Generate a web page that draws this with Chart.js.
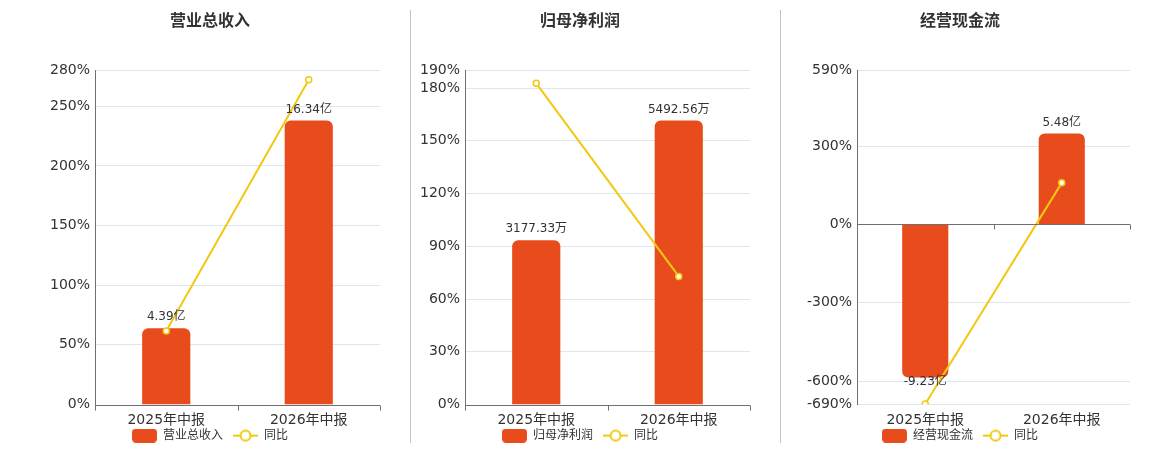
<!DOCTYPE html>
<html>
<head>
<meta charset="utf-8">
<script src="https://cdn.jsdelivr.net/npm/chart.js@4.4.1/dist/chart.umd.min.js"></script>
<style>
  body { margin: 0; width: 1160px; height: 450px; position: relative; background: #fff; overflow: hidden; }
  .box { position: absolute; top: 0; height: 450px; }
  .sep { position: absolute; top: 10px; height: 433px; width: 1px; background: #c4c4c4; }
</style>
</head>
<body>
<div class="sep" style="left:410px"></div>
<div class="sep" style="left:780px"></div>
<div class="box" style="left:40px;width:350px"><canvas id="c1"></canvas></div>
<div class="box" style="left:410px;width:350px"><canvas id="c2"></canvas></div>
<div class="box" style="left:790px;width:350px"><canvas id="c3"></canvas></div>
<script>
// data
const categories = ['2025年中报', '2026年中报'];

const revenue = [4.39, 16.34];          // 亿
const revenueYoy = [61.7, 272.21];      // %
const profit = [3177.33, 5492.56];      // 万
const profitYoy = [182.7, 72.87];
const cashflow = [-9.23, 5.48];         // 亿
const cashflowYoy = [-688, 159.4];

const revenueTicks = [0, 50, 100, 150, 200, 250, 280];
const profitTicks = [0, 30, 60, 90, 120, 150, 180, 190];
const cashflowTicks = [-690, -600, -300, 0, 300, 590];

const RED = '#e84c1c';
const YELLOW = '#f2c811';
const AXIS = '#6e7079';
const GRID = '#e0e6f1';

Chart.defaults.font.family = "'DejaVu Sans', 'Noto Sans CJK SC', sans-serif";
Chart.defaults.color = '#333';

// legend swatches
function barSwatch() {
  const c = document.createElement('canvas');
  c.width = 25; c.height = 14;
  const g = c.getContext('2d');
  g.fillStyle = RED;
  g.beginPath(); g.roundRect(0, 0, 25, 14, 4); g.fill();
  return c;
}
function lineSwatch() {
  const c = document.createElement('canvas');
  c.width = 25; c.height = 14;
  const g = c.getContext('2d');
  g.strokeStyle = YELLOW; g.lineWidth = 2;
  g.beginPath(); g.moveTo(0, 7); g.lineTo(25, 7); g.stroke();
  g.fillStyle = '#fff';
  g.beginPath(); g.arc(12.5, 7, 5, 0, Math.PI * 2); g.fill(); g.stroke();
  return c;
}
const swatches = [barSwatch(), lineSwatch()];

// zero axis with small ticks, plus value labels on the bars
const barDecor = {
  id: 'barDecor',
  afterDatasetsDraw(chart, args, opts) {
    const { ctx, chartArea: a, scales } = chart;
    const y0 = Math.round(scales.y.getPixelForValue(0)) + 0.5;
    ctx.save();
    ctx.strokeStyle = AXIS;
    ctx.lineWidth = 1;
    ctx.beginPath();
    ctx.moveTo(a.left, y0); ctx.lineTo(a.right, y0);
    [a.left, (a.left + a.right) / 2, a.right].forEach(x => {
      x = Math.round(x) + 0.5;
      ctx.moveTo(x, y0); ctx.lineTo(x, y0 + 5);
    });
    ctx.stroke();

    ctx.font = "12px 'DejaVu Sans', 'Noto Sans CJK SC', sans-serif";
    ctx.fillStyle = '#333';
    ctx.textAlign = 'center';
    const values = chart.data.datasets[0].data;
    chart.getDatasetMeta(0).data.forEach((bar, i) => {
      const text = values[i].toFixed(2) + opts.unit;
      if (values[i] >= 0) {
        ctx.textBaseline = 'bottom';
        ctx.fillText(text, bar.x, bar.y - 5);
      } else {
        ctx.textBaseline = 'top';
        ctx.fillText(text, bar.x, bar.y - 2);
      }
    });
    ctx.restore();
  }
};

function makeChart(id, title, barName, bars, unit, yoy, ticks, yWidth, barMin, barMax) {
  new Chart(document.getElementById(id), {
    data: {
      labels: categories,
      datasets: [
        {
          type: 'bar', label: barName, data: bars, yAxisID: 'yb', order: 2,
          backgroundColor: RED, borderRadius: 6, borderSkipped: 'start',
          categoryPercentage: 1, barPercentage: 0.338
        },
        {
          type: 'line', label: '同比', data: yoy, yAxisID: 'y', order: 1,
          borderColor: YELLOW, borderWidth: 2, tension: 0,
          pointRadius: 3, pointBackgroundColor: '#fff', pointBorderColor: YELLOW, pointBorderWidth: 1.5
        }
      ]
    },
    options: {
      responsive: true,
      maintainAspectRatio: false,
      animation: false,
      layout: { padding: { left: 0, right: 10, top: 0, bottom: -1.6 } },
      plugins: {
        title: {
          display: true, text: title, color: '#333',
          font: { size: 16, weight: 'bold' },
          padding: { top: 12.6, bottom: 38.7 }
        },
        legend: {
          position: 'bottom',
          labels: {
            usePointStyle: true, pointStyleWidth: 25, boxHeight: 12, padding: 10,
            font: { size: 12 }, color: '#333',
            generateLabels: c => c.data.datasets.map((ds, i) => ({
              text: ds.label, pointStyle: swatches[i], datasetIndex: i,
              fillStyle: 'transparent', strokeStyle: 'transparent', lineWidth: 0, hidden: false, fontColor: '#333'
            }))
          }
        },
        tooltip: { enabled: false },
        barDecor: { unit: unit }
      },
      scales: {
        x: {
          grid: { display: false, drawTicks: false },
          border: { display: false },
          ticks: { font: { size: 14 }, color: '#333', padding: 7 },
          afterFit: s => {
            s.height = 15.1;
            s._computeLabelArea = () => undefined;   // let the labels spill into the legend band
          }
        },
        y: {
          position: 'left',
          min: ticks[0], max: ticks[ticks.length - 1],
          afterBuildTicks: s => { s.ticks = ticks.map(v => ({ value: v })); },
          grid: { color: c => (c.tick && c.tick.value === 0) ? 'rgba(0,0,0,0)' : GRID, drawTicks: false },
          border: { display: true, color: AXIS },
          ticks: { font: { size: 14 }, color: '#333', padding: 5, callback: v => v + '%' },
          afterFit: s => { s.width = yWidth; }
        },
        yb: {
          display: false,
          min: barMin, max: barMax
        }
      }
    },
    plugins: [barDecor]
  });
}

makeChart('c1', '营业总收入', '营业总收入', revenue, '亿', revenueYoy, revenueTicks, 55,
  0, Math.max(...revenue) / 0.85);
makeChart('c2', '归母净利润', '归母净利润', profit, '万', profitYoy, profitTicks, 55,
  0, Math.max(...profit) / 0.85);
const cashMin = Math.min(...cashflow) / 0.85;
makeChart('c3', '经营现金流', '经营现金流', cashflow, '亿', cashflowYoy, cashflowTicks, 67,
  cashMin, -cashMin * cashflowTicks[cashflowTicks.length - 1] / -cashflowTicks[0]);
</script>
</body>
</html>
